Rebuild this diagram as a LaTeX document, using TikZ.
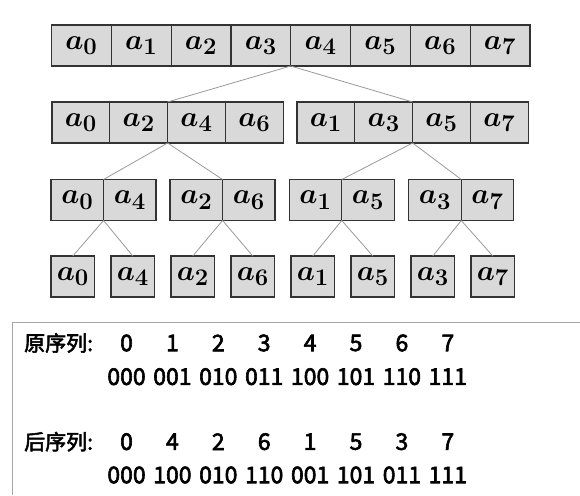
\documentclass[tikz,border=0pt]{standalone}
\usepackage{amsmath,amssymb}
\usepackage{bm}
\usepackage{graphicx}
\usepackage{fontspec}
\newfontfamily\cjk[FakeBold=2.6]{Noto Sans CJK SC}
\usepackage{tikz}
\usetikzlibrary{positioning}
\newcommand{\bfa}[1]{\scalebox{1.15}{$\bm{a}_{\bm{#1}}$}}
\tikzset{
 cell/.style={draw=black!80, line width=1.2pt, fill=black!15, outer sep=0pt, inner sep=0pt,
  minimum width=#1, minimum height=41pt, font=\fontsize{24.88}{30}\selectfont},
 link/.style={draw=black!40, line width=0.8pt},
 seq/.style={font=\cjk\fontsize{23}{26}\selectfont, inner sep=0pt}
}

\begin{document}
\begin{tikzpicture}[x=1pt,y=-1pt]
\useasboundingbox (0,0) rectangle (580,495);
% row 1
\node[cell=59.8pt] (r1c0) at (81.4,45.5) {\bfa{0}};
\node[cell=59.8pt, right=0pt of r1c0] (r1c1) {\bfa{1}};
\node[cell=59.8pt, right=0pt of r1c1] (r1c2) {\bfa{2}};
\node[cell=59.8pt, right=0pt of r1c2] (r1c3) {\bfa{3}};
\node[cell=59.8pt, right=0pt of r1c3] (r1c4) {\bfa{4}};
\node[cell=59.8pt, right=0pt of r1c4] (r1c5) {\bfa{5}};
\node[cell=59.8pt, right=0pt of r1c5] (r1c6) {\bfa{6}};
\node[cell=59.8pt, right=0pt of r1c6] (r1c7) {\bfa{7}};
% row 2
\node[cell=57.8pt] (r2c0) at (80.9,122.5) {\bfa{0}};
\node[cell=57.8pt, right=0pt of r2c0] (r2c1) {\bfa{2}};
\node[cell=57.8pt, right=0pt of r2c1] (r2c2) {\bfa{4}};
\node[cell=57.8pt, right=0pt of r2c2] (r2c3) {\bfa{6}};
\node[cell=57.8pt] (r2c4) at (325.9,122.5) {\bfa{1}};
\node[cell=57.8pt, right=0pt of r2c4] (r2c5) {\bfa{3}};
\node[cell=57.8pt, right=0pt of r2c5] (r2c6) {\bfa{5}};
\node[cell=57.8pt, right=0pt of r2c6] (r2c7) {\bfa{7}};
 \draw[link] (r1c3.south east) -- (r2c1.north east);
 \draw[link] (r1c3.south east) -- (r2c5.north east);
% row 3
\node[cell=52.5pt] (r3c0) at (77.3,200) {\bfa{0}};
\node[cell=52.5pt, right=0pt of r3c0] (r3c1) {\bfa{4}};
\node[cell=52.5pt] (r3c2) at (196.3,200) {\bfa{2}};
\node[cell=52.5pt, right=0pt of r3c2] (r3c3) {\bfa{6}};
\node[cell=52.5pt] (r3c4) at (315.5,200) {\bfa{1}};
\node[cell=52.5pt, right=0pt of r3c4] (r3c5) {\bfa{5}};
\node[cell=52.5pt] (r3c6) at (435,200) {\bfa{3}};
\node[cell=52.5pt, right=0pt of r3c6] (r3c7) {\bfa{7}};
 \draw[link] (r2c1.south east) -- (r3c0.north east);
 \draw[link] (r2c1.south east) -- (r3c2.north east);
 \draw[link] (r2c5.south east) -- (r3c4.north east);
 \draw[link] (r2c5.south east) -- (r3c6.north east);
% row 4
\node[cell=43.5pt] (r4c0) at (72.8,276.5) {\bfa{0}};
\node[cell=43.5pt, right=16.5pt of r4c0] (r4c1) {\bfa{4}};
\node[cell=43.5pt, right=16.5pt of r4c1] (r4c2) {\bfa{2}};
\node[cell=43.5pt, right=16.5pt of r4c2] (r4c3) {\bfa{6}};
\node[cell=43.5pt, right=16.5pt of r4c3] (r4c4) {\bfa{1}};
\node[cell=43.5pt, right=16.5pt of r4c4] (r4c5) {\bfa{5}};
\node[cell=43.5pt, right=16.5pt of r4c5] (r4c6) {\bfa{3}};
\node[cell=43.5pt, right=16.5pt of r4c6] (r4c7) {\bfa{7}};
 \draw[link] (r3c0.south east) -- (r4c0.north);
 \draw[link] (r3c0.south east) -- (r4c1.north);
 \draw[link] (r3c2.south east) -- (r4c2.north);
 \draw[link] (r3c2.south east) -- (r4c3.north);
 \draw[link] (r3c4.south east) -- (r4c4.north);
 \draw[link] (r3c4.south east) -- (r4c5.north);
 \draw[link] (r3c6.south east) -- (r4c6.north);
 \draw[link] (r3c6.south east) -- (r4c7.north);
% sequences
\draw[black!35, line width=1pt] (580,322.7) -- (12.7,322.7) -- (12.7,495);
\node[seq, anchor=west, font=\cjk\fontsize{21}{24}\selectfont] (orig) at (24,343) {原序列:};
\node[seq, anchor=west, font=\cjk\fontsize{21}{24}\selectfont] (rev) at (24,441.7) {后序列:};
\foreach \d [count=\i from 0] in {0,1,2,3,4,5,6,7}
 \node[seq] (o\i) at (126.5+45.9*\i,343) {\d};
\foreach \b [count=\i from 0] in {000,001,010,011,100,101,110,111}
 \node[seq] (ob\i) at (126.5+45.9*\i,376.7) {\b};
\foreach \d [count=\i from 0] in {0,4,2,6,1,5,3,7}
 \node[seq] (p\i) at (126.5+45.9*\i,441.7) {\d};
\foreach \b [count=\i from 0] in {000,100,010,110,001,101,011,111}
 \node[seq] (pb\i) at (126.5+45.9*\i,475) {\b};
\end{tikzpicture}
\end{document}
